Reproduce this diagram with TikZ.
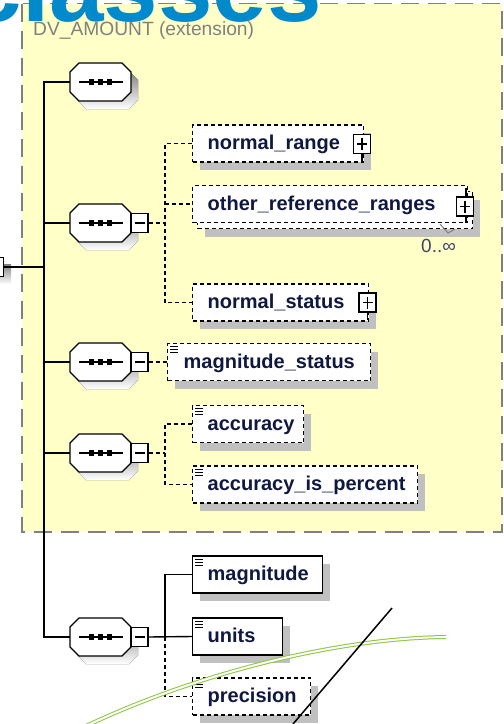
\documentclass[tikz,border=0pt]{standalone}
\usepackage{fontspec}
\setmainfont{Liberation Sans}
\usetikzlibrary{calc}

\definecolor{panel}{RGB}{255,255,200}
\definecolor{frame}{RGB}{128,128,128}
\definecolor{shade}{RGB}{192,192,192}
\definecolor{ink}{RGB}{16,24,64}
\definecolor{titleblue}{RGB}{0,137,203}
\definecolor{leaf}{RGB}{140,198,63}

% left-aligned label of fixed width inside an element box
\newcommand\elbox[3]{\makebox[#1][l]{\hspace{#2}#3}}

\tikzset{
  conn/.style={line width=1.4pt, black},
  optconn/.style={conn, dash pattern=on 4pt off 3pt},
  shadowed/.style={preaction={fill=shade, transform canvas={shift={(7pt,-8pt)}}}},
  flatelem/.style={draw=black, line width=1.4pt, fill=white,
    inner xsep=0pt, inner ysep=0pt, minimum height=37pt,
    text height=15pt, text depth=3pt, anchor=west,
    font=\fontsize{20}{24}\selectfont\bfseries, text=ink},
  elem/.style={flatelem, shadowed},
  optflat/.style={flatelem, dash pattern=on 4pt off 3pt},
  optelem/.style={elem, dash pattern=on 4pt off 3pt},
  iconbox/.style={draw=black, fill=white, line width=1.2pt, inner sep=0pt,
    minimum width=17pt, minimum height=19pt},
  minusbox/.style={iconbox,
    path picture={\draw[line width=1.2pt]
      ([xshift=3.5pt]path picture bounding box.west) --
      ([xshift=-3.5pt]path picture bounding box.east);}},
  plusbox/.style={iconbox,
    path picture={\draw[line width=1.2pt]
      ([xshift=3.5pt]path picture bounding box.west) --
      ([xshift=-3.5pt]path picture bounding box.east)
      ([yshift=-3.5pt]path picture bounding box.north) --
      ([yshift=3.5pt]path picture bounding box.south);}},
}

% sequence compositor: octagon with three dots
\newcommand\seqicon[2]{%
  \node[minimum width=61pt, minimum height=38pt, inner sep=0pt] (#1) at (#2) {};
  \fill[shade] ($(#1.center)+(7,8)$) +(-30.5,-10) -- +(-21.5,-19) -- +(21.5,-19)
    -- +(30.5,-10) -- +(30.5,10) -- +(21.5,19) -- +(-21.5,19) -- +(-30.5,10) -- cycle;
  \draw[line width=1.3pt, fill=white] (#1.center) +(-30.5,-10) -- +(-21.5,-19)
    -- +(21.5,-19) -- +(30.5,-10) -- +(30.5,10) -- +(21.5,19) -- +(-21.5,19)
    -- +(-30.5,10) -- cycle;
  \draw[line width=1.3pt] ($(#1.center)+(-22,0)$) -- ($(#1.center)+(22,0)$);
  \foreach \dx in {-9,0,9}{\fill ($(#1.center)+(\dx,0)$) +(-2.6,-2.6) rectangle +(2.6,2.6);}
}

% simple-content mark in the top-left corner of an element box
\newcommand\textmark[1]{%
  \foreach \dy in {4,7,10}{\draw[line width=1.1pt] ($(#1.north west)+(3,\dy)$) -- ++(8,0);}
}

\begin{document}
\begin{tikzpicture}[x=1pt,y=-1pt]
\useasboundingbox (0,0) rectangle (504,724);
\fill[white] (0,0) rectangle (504,724);

% extension panel
\draw[frame, fill=panel, line width=1.8pt, dash pattern=on 18pt off 9pt]
  (22,3.5) rectangle (502,532);
\node[anchor=base west, inner sep=0pt, text=frame,
  font=\fontsize{19.2}{21}\selectfont] (ext) at (33,35) {DV\_AMOUNT (extension)};

% heading
\node[anchor=base east, inner sep=0pt, text=titleblue,
  font=\fontsize{98}{98}\selectfont\bfseries] (title) at (322,21) {classes};

% root stub and spine
\fill[shade] (-7,264) rectangle (11,284);
\node[minusbox] (rootbox) at (-5,267) {};
\coordinate (root) at (44,267);
\draw[conn] (rootbox.east) -- (root);

% compositors
\seqicon{c1}{100.5,82}
\seqicon{c2}{100.5,223}
\seqicon{c3}{100.5,362}
\seqicon{c4}{100.5,453}
\seqicon{c5}{100.5,637}
\foreach \k in {1,...,5}{\draw[conn] (root) |- (c\k.west);}

\node[minusbox] (m2) at (139.5,223) {};
\node[minusbox] (m3) at (139.5,362) {};
\node[minusbox] (m4) at (139.5,453) {};
\node[minusbox] (m5) at (139.5,637) {};

% group 2: ranges and status
\node[optelem] (nr) at (192,143.5) {\elbox{171pt}{15pt}{normal\_range}};
\node[optelem] (orrback) at (197,210) {\elbox{275pt}{15pt}{}};
\node[optflat] (orr) at (192,204) {\elbox{275pt}{15pt}{other\_reference\_ranges}};
\node[optelem] (ns) at (192,302.5) {\elbox{176pt}{15pt}{normal\_status}};

\draw[line width=1.2pt] (362,153) -- (362,161);
\node[plusbox] (pnr) at (362,144) {};
\draw[line width=1.2pt] (466,188) -- (466,223);
\node[plusbox] (porr) at (465,206.5) {};
\draw[line width=1.2pt] (367.5,312) -- (367.5,320);
\node[plusbox] (pns) at (367.5,302.5) {};

\draw[frame, line width=1pt] (440,224) -- (448,233) -- (455,229);
\node[anchor=base west, inner sep=0pt, text=ink!80,
  font=\fontsize{19}{21}\selectfont] (occ) at (421,252.5) {0..∞};

\coordinate (g2) at (165,223);
\draw[optconn] (m2.east) -- (g2);
\draw[optconn] (nr.west) -| (g2) |- (ns.west);
\draw[optconn] (orr.west -| g2) -- (orr.west);

% group 3
\node[optelem] (ms) at (167,362) {\elbox{203pt}{16pt}{magnitude\_status}};
\textmark{ms}
\draw[optconn] (m3.east) -- (ms.west);

% group 4
\node[optelem] (acc) at (192,424) {\elbox{111pt}{15pt}{accuracy}};
\textmark{acc}
\node[optelem] (aip) at (192,484.5) {\elbox{225pt}{15pt}{accuracy\_is\_percent}};
\textmark{aip}
\coordinate (g4) at (165,453);
\draw[optconn] (m4.east) -- (g4);
\draw[optconn] (acc.west) -| (g4) |- (aip.west);

% group 5: the base attributes
\node[elem] (mag) at (192,574.5) {\elbox{130pt}{15pt}{magnitude}};
\textmark{mag}
\node[elem] (units) at (192,636.5) {\elbox{90pt}{15pt}{units}};
\textmark{units}
\node[optelem] (prec) at (192,696.5) {\elbox{118pt}{15pt}{precision}};
\textmark{prec}
\coordinate (g5) at (165,637);
\draw[conn] (m5.east) -- (units.west);
\draw[conn] (mag.west) -| (g5);
\draw[optconn] (g5) |- (prec.west);

% overlaid strokes
\draw[leaf, line width=1pt, double=white, double distance=2pt]
  (86,726) .. controls (200,672) and (340,638) .. (446,637);
\draw[line width=1.5pt] (392,608) -- (293,724);
\end{tikzpicture}
\end{document}
